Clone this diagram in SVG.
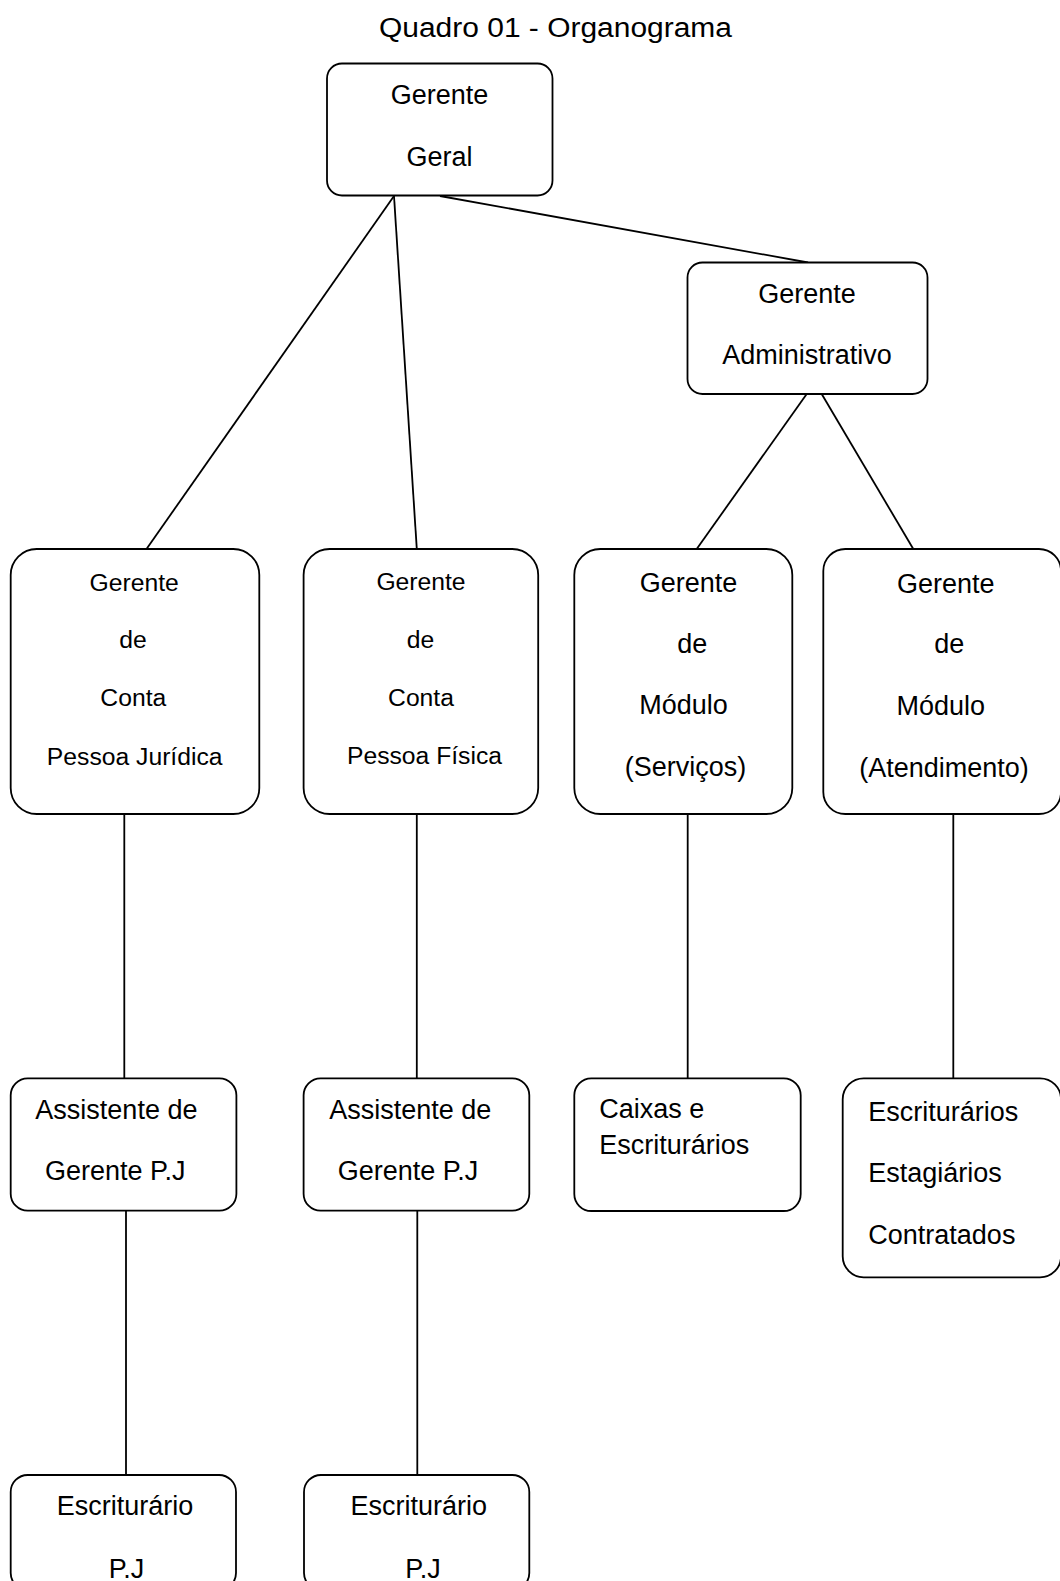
<svg xmlns="http://www.w3.org/2000/svg" width="1060" height="1581" viewBox="0 0 1060 1581">
<style>
  .box { fill: #ffffff; stroke: #000000; stroke-width: 1.8; }
  .conn line { stroke: #000000; stroke-width: 1.8; }
  text { font-family: "Liberation Sans", Arial, sans-serif; fill: #000000; }
  .t27 { font-size: 27px; }
  .t25 { font-size: 24.7px; }
  .c { text-anchor: middle; }
</style>
<rect width="1060" height="1581" fill="#ffffff"/>
<text x="379" y="37.3" font-size="27" textLength="353" lengthAdjust="spacingAndGlyphs">Quadro 01 - Organograma</text>

<g id="connectors" class="conn">
  <line x1="394" y1="196" x2="146.5" y2="549"/>
  <line x1="394" y1="196" x2="416.8" y2="549"/>
  <line x1="440" y1="196" x2="808" y2="262.5"/>
  <line x1="806.7" y1="394" x2="696.7" y2="549"/>
  <line x1="821.7" y1="394" x2="913.3" y2="549"/>
  <line x1="124.3" y1="814" x2="124.3" y2="1078.3"/>
  <line x1="416.8" y1="814" x2="416.8" y2="1078.3"/>
  <line x1="687.7" y1="814" x2="687.7" y2="1078.3"/>
  <line x1="953.3" y1="814" x2="953.3" y2="1078.3"/>
  <line x1="126" y1="1210.7" x2="126" y2="1475"/>
  <line x1="417.3" y1="1210.7" x2="417.3" y2="1475"/>
</g>

<g id="gerente-geral">
  <rect class="box" x="327" y="63.5" width="225.5" height="132" rx="15"/>
  <text class="t27 c" x="439.5" y="104">Gerente</text>
  <text class="t27 c" x="439.5" y="165.7">Geral</text>
</g>

<g id="gerente-administrativo">
  <rect class="box" x="687.5" y="262.5" width="240" height="131.5" rx="15"/>
  <text class="t27 c" x="807" y="303.3">Gerente</text>
  <text class="t27 c" x="807" y="364">Administrativo</text>
</g>

<g id="gerente-conta-pj">
  <rect class="box" x="10.7" y="549" width="248.6" height="265" rx="26"/>
  <text class="t25 c" x="134.2" y="590.7">Gerente</text>
  <text class="t25 c" x="133" y="648.3">de</text>
  <text class="t25 c" x="133.3" y="706">Conta</text>
  <text class="t25 c" x="134.7" y="765">Pessoa Jurídica</text>
</g>

<g id="gerente-conta-pf">
  <rect class="box" x="303.6" y="549" width="234.6" height="265" rx="26"/>
  <text class="t25 c" x="421" y="589.5">Gerente</text>
  <text class="t25 c" x="420.5" y="648.3">de</text>
  <text class="t25 c" x="421" y="705.7">Conta</text>
  <text class="t25 c" x="424.5" y="764.3">Pessoa Física</text>
</g>

<g id="gerente-modulo-servicos">
  <rect class="box" x="574.3" y="549" width="218" height="265" rx="26"/>
  <text class="t27 c" x="688.5" y="591.7">Gerente</text>
  <text class="t27 c" x="692.3" y="652.7">de</text>
  <text class="t27 c" x="683.5" y="714.3">Módulo</text>
  <text class="t27 c" x="685.5" y="776">(Serviços)</text>
</g>

<g id="gerente-modulo-atendimento">
  <rect class="box" x="823.3" y="549" width="237.7" height="265" rx="22"/>
  <text class="t27 c" x="945.8" y="592.7">Gerente</text>
  <text class="t27 c" x="949.3" y="653.3">de</text>
  <text class="t27 c" x="940.8" y="715">Módulo</text>
  <text class="t27 c" x="944" y="776.5">(Atendimento)</text>
</g>

<g id="assistente-pj-1">
  <rect class="box" x="10.7" y="1078.3" width="225.7" height="132.4" rx="17"/>
  <text class="t27 c" x="116.4" y="1119.3">Assistente de</text>
  <text class="t27 c" x="115.2" y="1180">Gerente P.J</text>
</g>

<g id="assistente-pj-2">
  <rect class="box" x="303.6" y="1078.3" width="225.7" height="132.4" rx="17"/>
  <text class="t27 c" x="410.3" y="1119.3">Assistente de</text>
  <text class="t27 c" x="408" y="1180">Gerente P.J</text>
</g>

<g id="caixas-escriturarios">
  <rect class="box" x="574.3" y="1078.3" width="226.4" height="132.7" rx="17"/>
  <text class="t27" x="599.3" y="1118.3">Caixas e</text>
  <text class="t27" x="599.3" y="1154.3">Escriturários</text>
</g>

<g id="escriturarios-estagiarios-contratados">
  <rect class="box" x="842.7" y="1078.3" width="218.3" height="199" rx="21"/>
  <text class="t27" x="868.3" y="1121">Escriturários</text>
  <text class="t27" x="868.3" y="1181.7">Estagiários</text>
  <text class="t27" x="868.3" y="1244.3">Contratados</text>
</g>

<g id="escriturario-pj-1">
  <rect class="box" x="10.7" y="1475" width="225.3" height="115" rx="17"/>
  <text class="t27 c" x="125" y="1515">Escriturário</text>
  <text class="t27 c" x="126.5" y="1578">P.J</text>
</g>

<g id="escriturario-pj-2">
  <rect class="box" x="304" y="1475" width="225.3" height="115" rx="17"/>
  <text class="t27 c" x="418.7" y="1515">Escriturário</text>
  <text class="t27 c" x="423" y="1578">P.J</text>
</g>
</svg>
